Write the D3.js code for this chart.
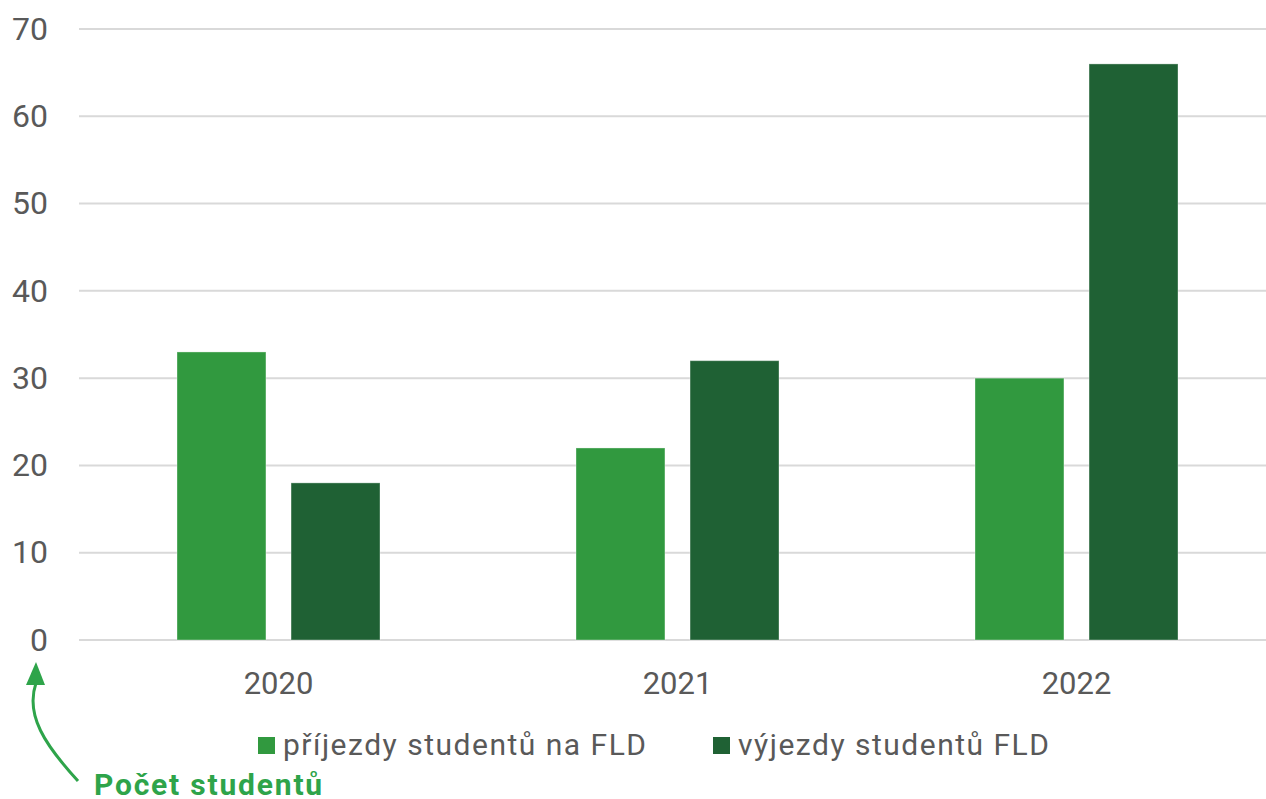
<!DOCTYPE html>
<html>
<head>
<meta charset="utf-8">
<script src="https://cdn.jsdelivr.net/npm/d3@7"></script>
<style>
  body { margin: 0; background: #fff; }
  text { font-family: Roboto, "Noto Sans", sans-serif; }
</style>
</head>
<body>
<script>
// data
var years = ["2020", "2021", "2022"];
var prijezdy = [33, 22, 30];
var vyjezdy = [18, 32, 66];
var seriesNames = ["příjezdy studentů na FLD", "výjezdy studentů FLD"];
var seriesColors = ["#31993f", "#1f6134"];
var yTicks = [0, 10, 20, 30, 40, 50, 60, 70];

var width = 1266, height = 799;

var svg = d3.select("body").append("svg")
    .attr("width", width)
    .attr("height", height);

var x = d3.scaleBand()
    .domain(years)
    .range([79, 1276]);

var x1 = d3.scaleBand()
    .domain([0, 1])
    .range([98, x.bandwidth() - 98])
    .paddingInner(0.22);

var y = d3.scaleLinear()
    .domain([0, 70])
    .range([640, 29]);

// gridlines
svg.append("g").selectAll("line")
    .data(yTicks)
    .enter()
    .append("line")
    .attr("x1", 79)
    .attr("x2", width)
    .attr("y1", function (d) { return y(d); })
    .attr("y2", function (d) { return y(d); })
    .attr("stroke", "#d9d9d9")
    .attr("stroke-width", 2);

// y axis labels
var yAxis = svg.append("g")
    .attr("transform", "translate(48,0)")
    .call(d3.axisLeft(y).tickValues(yTicks).tickSize(0).tickPadding(0));
yAxis.select(".domain").remove();
yAxis.selectAll("text")
    .attr("font-size", "32px")
    .attr("fill", "#595959")
    .style("font-family", "Roboto, sans-serif");

// x axis labels
var xAxis = svg.append("g")
    .attr("transform", "translate(0,694)")
    .call(d3.axisBottom(x).tickSize(0).tickPadding(0));
xAxis.select(".domain").remove();
xAxis.selectAll("text")
    .attr("dy", 0)
    .attr("font-size", "31px")
    .attr("fill", "#595959")
    .style("font-family", "Roboto, sans-serif");

// bars
var rows = years.map(function (yr, i) {
  return { year: yr, values: [prijezdy[i], vyjezdy[i]] };
});

var groups = svg.selectAll(".grp")
    .data(rows)
    .enter()
    .append("g")
    .attr("class", "grp")
    .attr("transform", function (d) { return "translate(" + x(d.year) + ",0)"; });

groups.selectAll("rect")
    .data(function (d) { return d.values.map(function (v, k) { return { k: k, v: v }; }); })
    .enter()
    .append("rect")
    .attr("x", function (d) { return x1(d.k); })
    .attr("width", x1.bandwidth())
    .attr("y", function (d) { return y(d.v); })
    .attr("height", function (d) { return y(0) - y(d.v); })
    .attr("fill", function (d) { return seriesColors[d.k]; })
    .attr("stroke", "rgba(255,255,255,0.35)")
    .attr("stroke-width", 1);

// legend
var legendX = [258, 713];
var legend = svg.selectAll(".leg")
    .data(seriesNames)
    .enter()
    .append("g")
    .attr("class", "leg")
    .attr("transform", function (d, i) { return "translate(" + legendX[i] + ",737)"; });

legend.append("rect")
    .attr("width", 17)
    .attr("height", 17)
    .attr("fill", function (d, i) { return seriesColors[i]; });

legend.append("text")
    .attr("x", 25)
    .attr("y", 18)
    .attr("font-size", "30px")
    .attr("letter-spacing", "1.5px")
    .attr("fill", "#595959")
    .text(function (d) { return d; });

// axis title with arrow
svg.append("text")
    .attr("x", 94)
    .attr("y", 795)
    .attr("font-size", "30px")
    .attr("font-weight", "bold")
    .attr("letter-spacing", "1.8px")
    .attr("fill", "#2ea44a")
    .text("Počet studentů");

svg.append("path")
    .attr("d", "M78,781 C45,745 25,715 36,683")
    .attr("fill", "none")
    .attr("stroke", "#2ea44a")
    .attr("stroke-width", 3);

svg.append("path")
    .attr("d", "M36,662 L26,685 L45,685 Z")
    .attr("fill", "#2ea44a");
</script>
</body>
</html>
